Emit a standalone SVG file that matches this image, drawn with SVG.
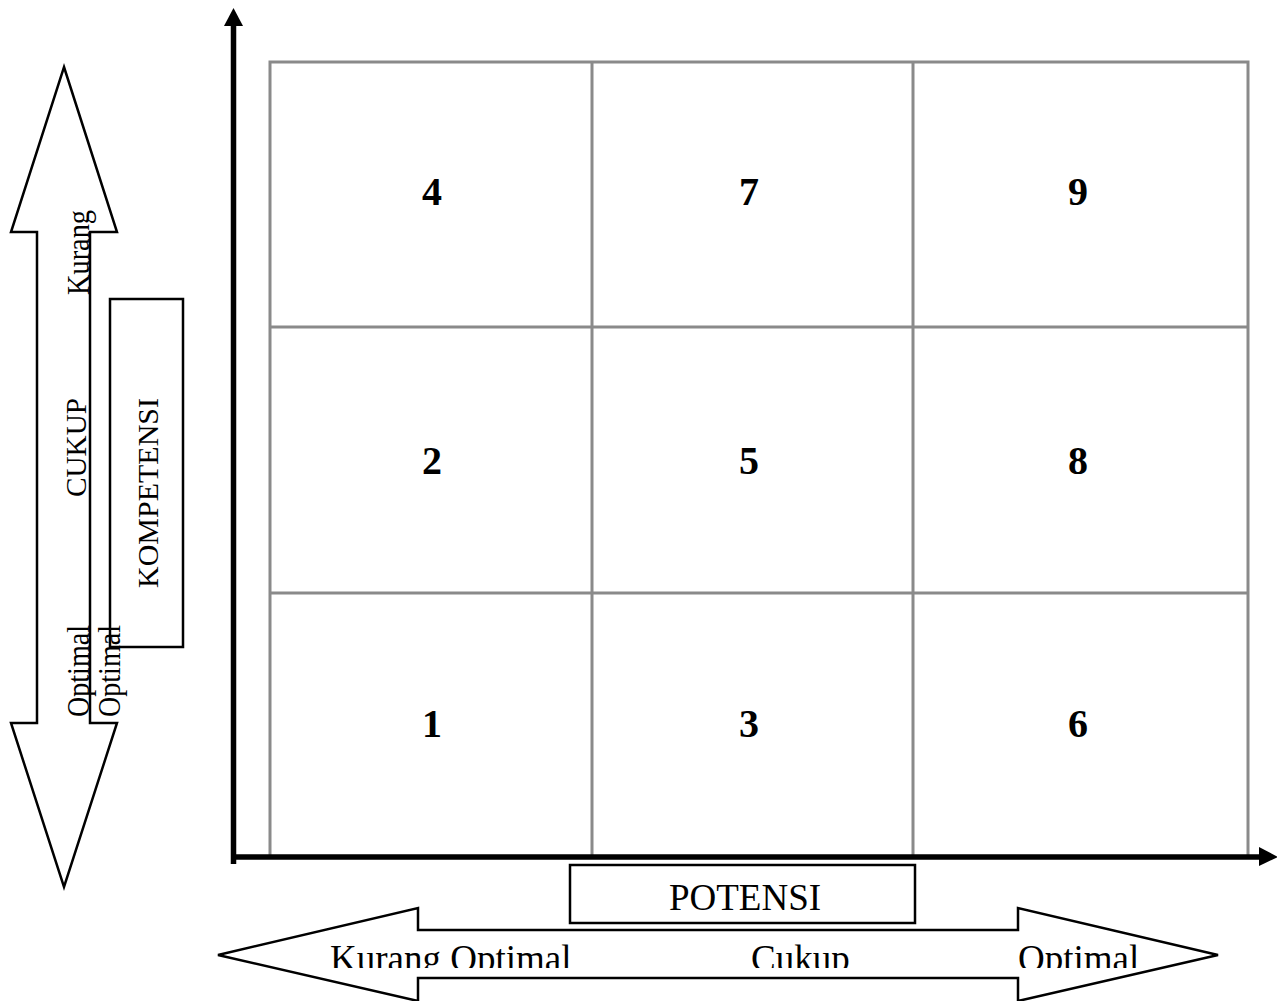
<svg xmlns="http://www.w3.org/2000/svg" width="1277" height="1001" viewBox="0 0 1277 1001">
<style>
.t{font-family:"Liberation Serif","Times New Roman",serif;fill:#000}
.h{font-size:37px}
.v{font-size:30px}
.vs{font-size:32px}
.d{font-size:40px;font-weight:bold;text-anchor:middle}
.shape{fill:#fff;stroke:#000;stroke-width:2.5;stroke-linejoin:miter}
.grid{fill:none;stroke:#8a8a8a;stroke-width:3}
.axis{stroke:#000;stroke-width:5.5;fill:none}
</style>
<defs>
<clipPath id="bclip"><rect x="0" y="0" width="1277" height="968"/></clipPath>
</defs>
<rect width="1277" height="1001" fill="#fff"/>

<g id="grid">
<rect class="grid" x="270" y="62" width="978" height="795"/>
<line class="grid" x1="592" y1="62" x2="592" y2="857"/>
<line class="grid" x1="913" y1="62" x2="913" y2="857"/>
<line class="grid" x1="270" y1="327" x2="1248" y2="327"/>
<line class="grid" x1="270" y1="593" x2="1248" y2="593"/>
</g>

<g id="cells">
<g id="cell4"><text class="t d" x="432" y="205">4</text></g>
<g id="cell7"><text class="t d" x="749" y="205">7</text></g>
<g id="cell9"><text class="t d" x="1078" y="205">9</text></g>
<g id="cell2"><text class="t d" x="432" y="474">2</text></g>
<g id="cell5"><text class="t d" x="749" y="474">5</text></g>
<g id="cell8"><text class="t d" x="1078" y="474">8</text></g>
<g id="cell1"><text class="t d" x="432" y="737">1</text></g>
<g id="cell3"><text class="t d" x="749" y="737">3</text></g>
<g id="cell6"><text class="t d" x="1078" y="737">6</text></g>
</g>

<g id="connectors">
<line class="axis" x1="233.5" y1="24" x2="233.5" y2="864"/>
<polygon points="233.5,8 243,26 224,26" fill="#000"/>
<line class="axis" x1="231" y1="857" x2="1262" y2="857"/>
<polygon points="1278,857 1259,847 1259,866" fill="#000"/>
</g>

<g id="kompetensi-arrow">
<polygon class="shape" points="64,67 117,232 90,232 90,723 117,723 64,887 11,723 37,723 37,232 11,232"/>
<text class="t vs" transform="translate(89,295) rotate(-90)" textLength="85" lengthAdjust="spacingAndGlyphs">Kurang</text>
<text class="t v" transform="translate(86,497) rotate(-90)" textLength="99" lengthAdjust="spacingAndGlyphs">CUKUP</text>
<text class="t vs" transform="translate(89,717) rotate(-90)" textLength="92" lengthAdjust="spacingAndGlyphs">Optimal</text>
</g>

<g id="kompetensi-box">
<rect class="shape" x="110" y="299" width="73" height="348"/>
<text class="t v" transform="translate(158,588) rotate(-90)" textLength="190" lengthAdjust="spacingAndGlyphs">KOMPETENSI</text>
</g>
<g id="optimal-2">
<text class="t vs" transform="translate(120,717) rotate(-90)" textLength="92" lengthAdjust="spacingAndGlyphs">Optimal</text>
</g>

<g id="potensi-arrow">
<polygon class="shape" points="218,955 418,908 418,930 1018,930 1018,908 1218,955 1018,1001 1018,978 418,978 418,1001"/>
<g clip-path="url(#bclip)">
<text class="t h" x="330" y="971">Kurang Optimal</text>
<text class="t h" x="751" y="971">Cukup</text>
<text class="t h" x="1018" y="971">Optimal</text>
</g>
</g>

<g id="potensi-box">
<rect class="shape" x="570" y="865" width="345" height="58"/>
<text class="t h" x="745" y="910" text-anchor="middle">POTENSI</text>
</g>
</svg>
